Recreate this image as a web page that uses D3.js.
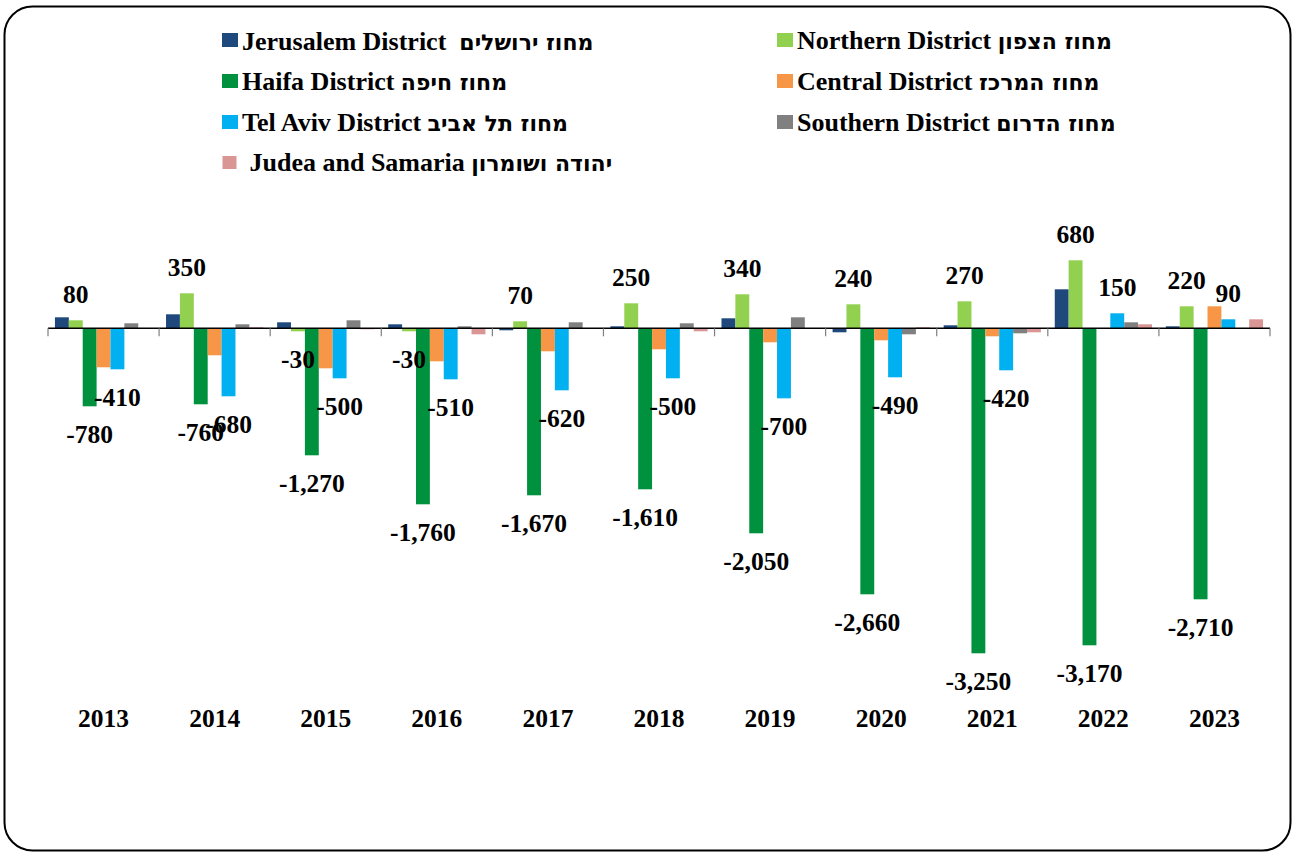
<!DOCTYPE html>
<html>
<head>
<meta charset="utf-8">
<script src="https://cdn.jsdelivr.net/npm/d3@7"></script>
<style>
  html, body { margin: 0; padding: 0; background: #ffffff; }
  svg { display: block; }
  text { font-family: "Liberation Serif", "Times New Roman", serif; font-weight: bold; fill: #000; }
  tspan.he { font-family: "DejaVu Sans", "Noto Sans", sans-serif; font-weight: bold; }
</style>
</head>
<body>
<svg id="chart" width="1292" height="852"></svg>
<script>
// ---- Data ----
const years = ["2013","2014","2015","2016","2017","2018","2019","2020","2021","2022","2023"];
const seriesEn = [
  "Jerusalem District  ",
  "Northern District ",
  "Haifa District ",
  "Central District ",
  "Tel Aviv District ",
  "Southern District ",
  "Judea and Samaria "
];
const seriesHe = [
  "מחוז ירושלים",
  "מחוז הצפון",
  "מחוז חיפה",
  "מחוז המרכז",
  "מחוז תל אביב",
  "מחוז הדרום",
  "יהודה ושומרון"
];
const jerusalem = [110, 140, 60, 40, -20, 20, 100, -40, 30, 390, 20];
const northern  = [80, 350, -30, -30, 70, 250, 340, 240, 270, 680, 220];
const haifa     = [-780, -760, -1270, -1760, -1670, -1610, -2050, -2660, -3250, -3170, -2710];
const central   = [-390, -270, -400, -330, -230, -210, -140, -120, -80, 0, 220];
const telAviv   = [-410, -680, -500, -510, -620, -500, -700, -490, -420, 150, 90];
const southern  = [50, 40, 80, 20, 60, 50, 110, -60, -50, 60, -5];
const judea     = [0, 10, -10, -60, 0, -30, 0, 10, -40, 40, 90];
const seriesValues = [jerusalem, northern, haifa, central, telAviv, southern, judea];
const colors = ["#1F497D", "#92D050", "#00913F", "#F79646", "#00B0F0", "#808080", "#D99694"];
const labeledSeries = [1, 2, 4]; // Northern, Haifa, Tel Aviv carry data labels

// ---- Setup ----
const svg = d3.select("#chart");

svg.append("rect")
  .attr("x", 4.5).attr("y", 6.5)
  .attr("width", 1286).attr("height", 844)
  .attr("rx", 28).attr("ry", 28)
  .attr("fill", "#fff").attr("stroke", "#000").attr("stroke-width", 2);

const plot = { left: 48, right: 1270, top: 228.3, bottom: 678.3 };

const x0 = d3.scaleBand().domain(years).range([plot.left, plot.right]).paddingInner(0).paddingOuter(0);
const x1 = d3.scaleBand().domain(d3.range(seriesValues.length)).range([0, x0.bandwidth()])
  .paddingInner(0).paddingOuter(0.5);
const y = d3.scaleLinear().domain([-3500, 1000]).range([plot.bottom, plot.top]);

const fmt = d3.formatLocale({ decimal: ".", thousands: ",", grouping: [3], currency: ["", ""], minus: "-" }).format(",");

// bars
const groups = svg.append("g").selectAll("g")
  .data(years).join("g")
  .attr("transform", d => `translate(${x0(d)},0)`);

groups.selectAll("rect")
  .data((yr, i) => seriesValues.map((vals, s) => ({ s, v: vals[i] })))
  .join("rect")
  .attr("x", d => x1(d.s))
  .attr("width", x1.bandwidth())
  .attr("y", d => y(Math.max(0, d.v)))
  .attr("height", d => Math.abs(y(d.v) - y(0)))
  .attr("fill", d => colors[d.s]);

// zero axis line
const y0 = y(0);
svg.append("line")
  .attr("x1", plot.left).attr("x2", plot.right)
  .attr("y1", y0).attr("y2", y0)
  .attr("stroke", "#000").attr("stroke-width", 1.6);

// category tick marks at boundaries
const bounds = years.map(d => x0(d)).concat([plot.right]);
svg.append("g").selectAll("line")
  .data(bounds).join("line")
  .attr("x1", d => d).attr("x2", d => d)
  .attr("y1", y0).attr("y2", y0 + 8)
  .attr("stroke", "#7f7f7f").attr("stroke-width", 1.2);

// category labels
svg.append("g").selectAll("text")
  .data(years).join("text")
  .attr("x", d => x0(d) + x0.bandwidth() / 2)
  .attr("y", 727)
  .attr("text-anchor", "middle")
  .attr("font-size", 25.5)
  .text(d => d);

// data labels
const lbl = [];
labeledSeries.forEach(s => {
  years.forEach((yr, i) => {
    lbl.push({ s, yr, v: seriesValues[s][i] });
  });
});
svg.append("g").selectAll("text")
  .data(lbl).join("text")
  .attr("x", d => x0(d.yr) + x1(d.s) + x1.bandwidth() / 2)
  .attr("y", d => d.v >= 0 ? y(d.v) - 17 : y(d.v) + 37)
  .attr("text-anchor", "middle")
  .attr("font-size", 25.5)
  .text(d => fmt(d.v));

// legend
const legendItems = [
  { s: 0, sx: 222, sy: 33, sw: 16, sh: 14, tx: 242, ty: 50 },
  { s: 1, sx: 777, sy: 33, sw: 16, sh: 14, tx: 797, ty: 49 },
  { s: 2, sx: 222, sy: 74, sw: 16, sh: 14, tx: 242, ty: 90 },
  { s: 3, sx: 777, sy: 74, sw: 16, sh: 14, tx: 797, ty: 90 },
  { s: 4, sx: 222, sy: 115, sw: 16, sh: 14, tx: 242, ty: 130.5 },
  { s: 5, sx: 777, sy: 115, sw: 16, sh: 14, tx: 797, ty: 130.5 },
  { s: 6, sx: 222.5, sy: 156, sw: 14, sh: 13, tx: 249.5, ty: 171 }
];
const lg = svg.append("g");
lg.selectAll("rect").data(legendItems).join("rect")
  .attr("x", d => d.sx).attr("y", d => d.sy)
  .attr("width", d => d.sw).attr("height", d => d.sh)
  .attr("fill", d => colors[d.s]);
const lt = lg.selectAll("text").data(legendItems).join("text")
  .attr("x", d => d.tx).attr("y", d => d.ty)
  .attr("font-size", 26)
  .style("white-space", "pre");
lt.append("tspan").text(d => seriesEn[d.s]);
lt.append("tspan").attr("class", "he").attr("font-size", 22).text(d => seriesHe[d.s]);
</script>
</body>
</html>
